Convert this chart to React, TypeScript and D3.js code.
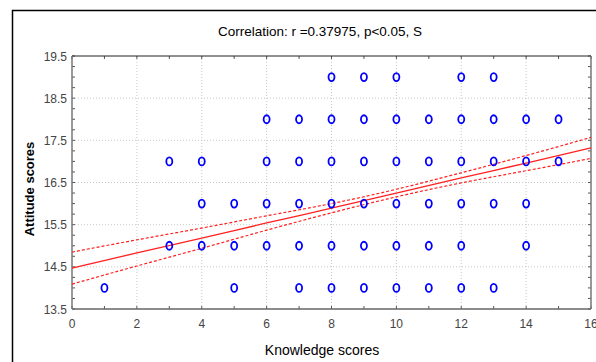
import React from "react";
import * as d3 from "d3";

const title = "Correlation: r =0.37975, p<0.05, S";
const xLabel = "Knowledge scores";
const yLabel = "Attitude scores";

// Observed (knowledge, attitude) score pairs
const knowledge = [
  8, 9, 10, 12, 13,
  6, 7, 8, 9, 10, 11, 12, 13, 14, 15,
  3, 4, 6, 7, 8, 9, 10, 11, 12, 13, 14, 15,
  4, 5, 6, 7, 8, 9, 10, 11, 12, 13, 14,
  3, 4, 5, 6, 7, 8, 9, 10, 11, 12, 14,
  1, 5, 7, 8, 9, 10, 11, 12, 13,
];
const attitude = [
  19, 19, 19, 19, 19,
  18, 18, 18, 18, 18, 18, 18, 18, 18, 18,
  17, 17, 17, 17, 17, 17, 17, 17, 17, 17, 17, 17,
  16, 16, 16, 16, 16, 16, 16, 16, 16, 16, 16,
  15, 15, 15, 15, 15, 15, 15, 15, 15, 15, 15,
  14, 14, 14, 14, 14, 14, 14, 14, 14,
];

// Regression line and 95% confidence band
const fitX = [0, 2, 4, 6, 8, 10, 12, 14, 16];
const fitY = [14.47, 14.83, 15.18, 15.54, 15.89, 16.25, 16.61, 16.96, 17.32];
const upperY = [14.85, 15.14, 15.42, 15.71, 16.0, 16.34, 16.73, 17.14, 17.57];
const lowerY = [14.09, 14.52, 14.94, 15.37, 15.78, 16.16, 16.49, 16.78, 17.07];

const xTicks = [0, 2, 4, 6, 8, 10, 12, 14, 16];
const yTicks = [13.5, 14.5, 15.5, 16.5, 17.5, 18.5, 19.5];

const W = 596;
const H = 362;
const L = 72, R = 591, T = 56, B = 309;

export default function App() {
  const x = d3.scaleLinear().domain([0, 16]).range([L, R]);
  const y = d3.scaleLinear().domain([13.5, 19.5]).range([B, T]);
  const line = (ys: number[]) =>
    d3
      .line<number>()
      .x((_, i) => x(fitX[i]))
      .y((d) => y(d))
      .curve(d3.curveNatural)(ys) || "";

  const minorX = d3.range(0, 17, 1);
  const minorY = d3.range(13.5, 19.51, 0.25);
  const font = "'Liberation Sans', Arial, sans-serif";

  return (
    <svg
      width={W}
      height={H}
      style={{ position: "absolute", left: 0, top: 0, background: "#fff" }}
      fontFamily={font}
    >
      <rect x={0} y={0} width={W} height={H} fill="#fff" />
      {/* outer frame */}
      <path d={`M12.5,${H} V10.5 H${W}`} fill="none" stroke="#000" strokeWidth={1.5} />
      <text x={320} y={36} textAnchor="middle" fontSize={13.5} fill="#000">
        {title}
      </text>

      {/* grid */}
      <g stroke="#c8c8c8" strokeWidth={1} strokeDasharray="1,2">
        {xTicks.slice(1, -1).map((t) => (
          <line key={"gx" + t} x1={x(t)} x2={x(t)} y1={T} y2={B} />
        ))}
        {yTicks.slice(1, -1).map((t) => (
          <line key={"gy" + t} x1={L} x2={R} y1={y(t)} y2={y(t)} />
        ))}
      </g>

      {/* minor ticks */}
      <g stroke="#555" strokeWidth={1}>
        {minorX.map((t) => (
          <g key={"tx" + t}>
            <line x1={x(t)} x2={x(t)} y1={B} y2={B - 3} />
            <line x1={x(t)} x2={x(t)} y1={T} y2={T + 3} />
          </g>
        ))}
        {minorY.map((t) => (
          <g key={"ty" + t}>
            <line x1={L} x2={L + 3} y1={y(t)} y2={y(t)} />
            <line x1={R} x2={R - 3} y1={y(t)} y2={y(t)} />
          </g>
        ))}
      </g>

      {/* plot frame */}
      <line x1={L} x2={R} y1={T} y2={T} stroke="#222" strokeWidth={1} />
      <line x1={L} x2={R} y1={B} y2={B} stroke="#666" strokeWidth={1.5} />
      <line x1={L} x2={L} y1={T} y2={B} stroke="#777" strokeWidth={1.5} />
      <line x1={R} x2={R} y1={T} y2={B} stroke="#777" strokeWidth={1.5} />

      {/* tick labels */}
      {xTicks.map((t) => (
        <text key={"lx" + t} x={x(t)} y={B + 19} textAnchor="middle" fontSize={12} fill="#444">
          {t}
        </text>
      ))}
      {yTicks.map((t) => (
        <text key={"ly" + t} x={L - 5} y={y(t) + 4.5} textAnchor="end" fontSize={12} fill="#444">
          {t.toFixed(1)}
        </text>
      ))}

      {/* regression + band */}
      <path d={line(upperY)} fill="none" stroke="#ff2020" strokeWidth={1.2} strokeDasharray="3,2" />
      <path d={line(lowerY)} fill="none" stroke="#ff2020" strokeWidth={1.2} strokeDasharray="3,2" />
      <path d={line(fitY)} fill="none" stroke="#ff2020" strokeWidth={1.3} />

      {/* points */}
      {knowledge.map((k, i) => (
        <ellipse
          key={"p" + i}
          cx={x(k)}
          cy={y(attitude[i])}
          rx={3}
          ry={4}
          fill="none"
          stroke="#0000ff"
          strokeWidth={1.8}
        />
      ))}

      {/* axis titles */}
      <text x={322} y={355} textAnchor="middle" fontSize={14} fill="#000">
        {xLabel}
      </text>
      <text
        transform={`translate(34,189) rotate(-90)`}
        textAnchor="middle"
        fontSize={13}
        fontWeight="bold"
        fill="#000"
      >
        {yLabel}
      </text>
    </svg>
  );
}
